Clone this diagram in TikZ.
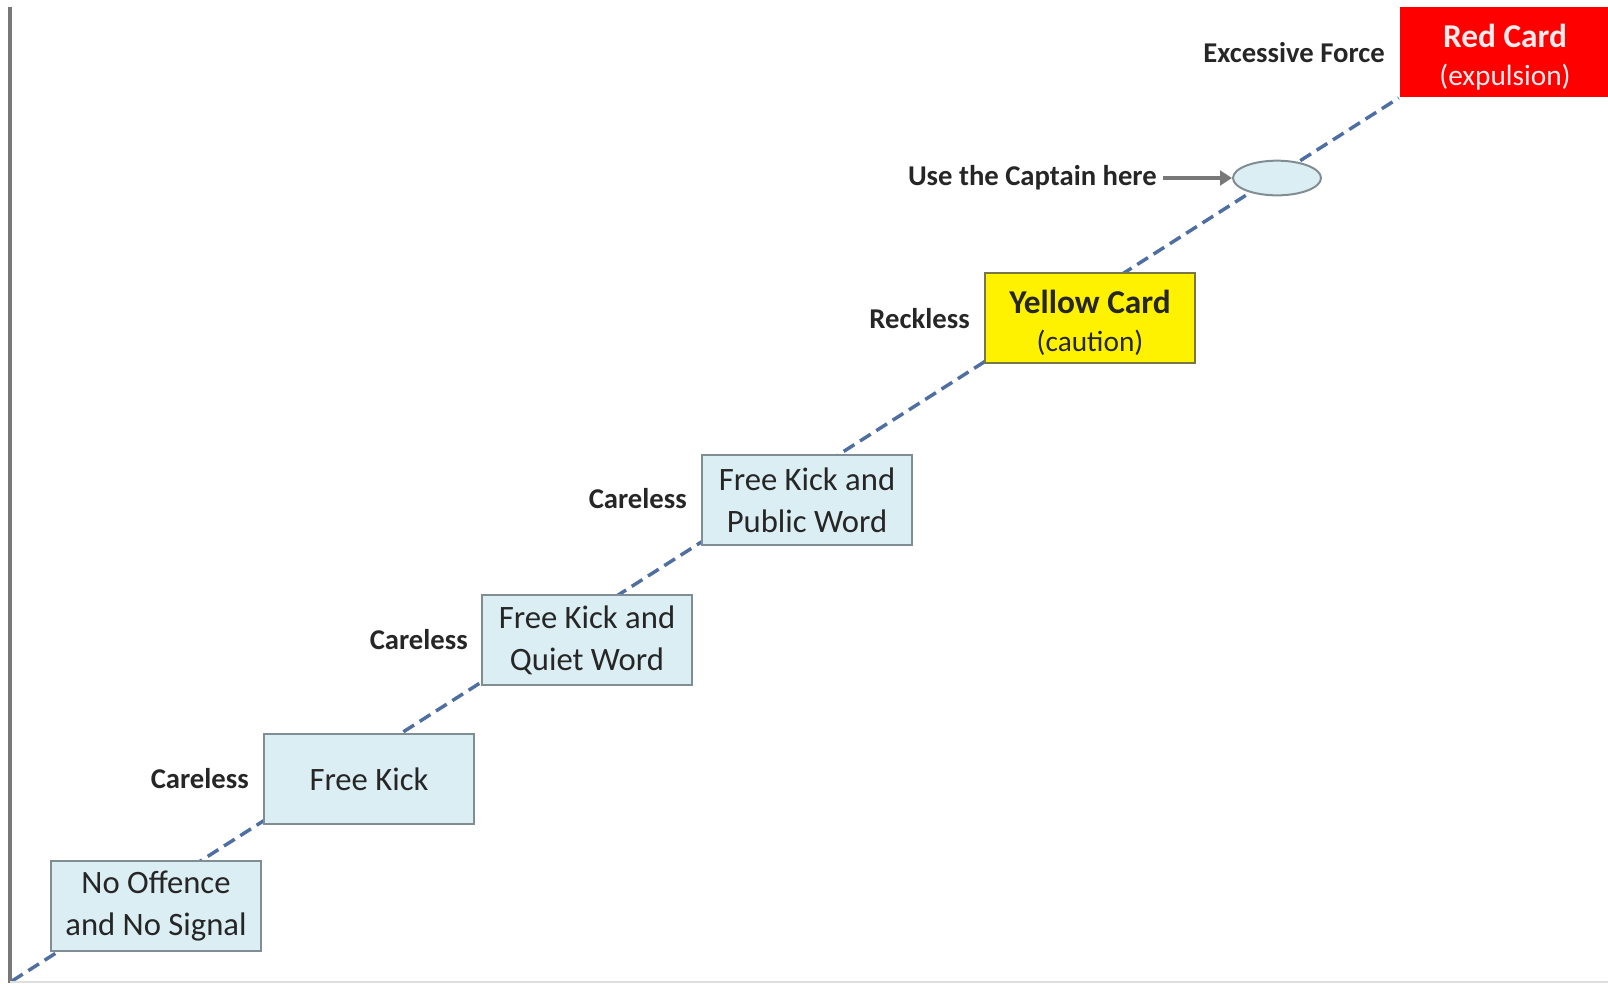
\documentclass[tikz,border=0pt]{standalone}
\usepackage{fontspec}
\setmainfont{Carlito}
\usetikzlibrary{arrows.meta,shapes.geometric,backgrounds}
\definecolor{boxfill}{RGB}{219,238,243}
\definecolor{boxline}{RGB}{128,142,148}
\definecolor{stairline}{RGB}{79,111,163}
\definecolor{ylwline}{RGB}{120,120,70}
\definecolor{axisgray}{RGB}{120,120,120}
\definecolor{redtext}{RGB}{255,235,235}

\begin{document}
\begin{tikzpicture}[x=0.75pt,y=-0.75pt,
  outcome/.style={draw=boxline,line width=1.5pt,fill=boxfill,minimum width=158pt,minimum height=67.5pt,
    align=center,inner sep=0pt,text=black!85,font=\fontsize{24.5pt}{31.5pt}\selectfont},
  card/.style={outcome,font=\fontsize{25pt}{28.5pt}\selectfont},
  lbl/.style={anchor=east,inner sep=0pt,text=black!85,font=\bfseries\fontsize{21.5pt}{26pt}\selectfont},
  stair/.style={stairline,line width=2.6pt,dash pattern=on 9.5pt off 5pt},
  pointer/.style={axisgray,line width=2.8pt,-{Triangle[length=9pt,width=11pt]},shorten <=4.5pt}]

\useasboundingbox (0,0) rectangle (1608,983);

% axes
\draw[axisgray,line width=3pt] (10,7) -- (10,983);
\draw[gray!25,line width=1.5pt] (10,981.5) -- (1608,981.5);

% steps
\node[outcome] (noof) at (156,906) {No Offence\\and No Signal};
\node[outcome] (fk) at (369,779) {Free Kick};
\node[outcome] (quiet) at (587,640) {Free Kick and\\Quiet Word};
\node[outcome] (public) at (807,500) {Free Kick and\\Public Word};
\node[card,fill=yellow,draw=ylwline] (yellow) at (1090,318)
  {\rule{0pt}{25pt}\textbf{Yellow Card}\\{\fontsize{22pt}{26pt}\selectfont(caution)}};
\node[card,fill=red,draw=none,text=redtext] (red) at (1505,52)
  {\rule{0pt}{25pt}\textbf{Red Card}\\{\fontsize{22pt}{26pt}\selectfont(expulsion)}};
\node[ellipse,draw=boxline,fill=boxfill,line width=1.5pt,minimum width=66pt,minimum height=26pt,inner sep=0pt] (capt) at (1277,178) {};

% labels
\node[lbl] (c1) at (249,779) {Careless};
\node[lbl] (c2) at (468,640) {Careless};
\node[lbl] (c3) at (687,499) {Careless};
\node[lbl] (reck) at (970,319) {Reckless};
\node[lbl] (use) at (1157,178) {Use the Captain here};
\node[lbl] (exf) at (1385,53) {Excessive Force};

\draw[pointer] (use) -- (capt);

\coordinate (start) at (12,981);
\begin{pgfonlayer}{background}
\draw[stair] (start) -- (red.south west);
\end{pgfonlayer}

\end{tikzpicture}
\end{document}
